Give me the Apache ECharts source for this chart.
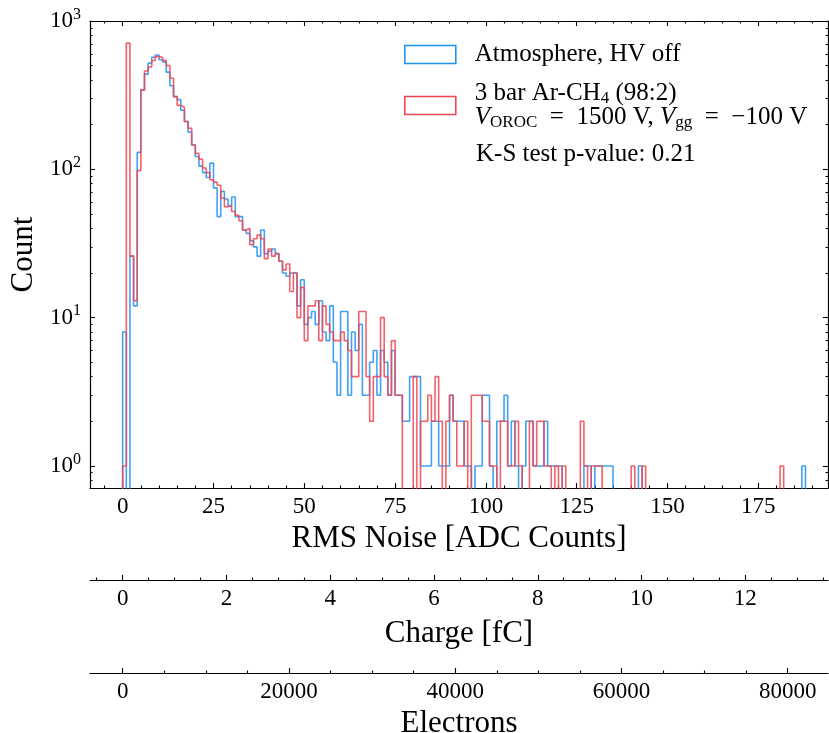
<!DOCTYPE html>
<html>
<head>
<meta charset="utf-8">
<script src="https://cdn.jsdelivr.net/npm/echarts@6/dist/echarts.min.js"></script>
<style>
  html, body { margin: 0; padding: 0; background: #fff; }
  #chart { width: 829px; height: 733px; }
</style>
</head>
<body>
<div id="chart"></div>
<script>
// histogram counts, one bin per ADC count starting at 0
const atmosphereCounts = [
  8, 0, 26, 12, 130, 343, 438, 520, 570, 590, 548, 530, 452, 366, 309, 295, 250, 210, 178, 146,
  122, 105, 95, 88, 110, 75, 48, 71, 63, 57, 65, 48, 48, 39, 37, 33, 30, 26, 39, 27,
  28, 29, 27, 24, 20, 19, 20, 20, 12, 18, 9, 10, 11, 9, 13, 8, 7, 12, 5, 3,
  11, 11, 3, 8, 6, 9, 3, 3, 5, 6, 3, 6, 5, 3, 6, 3, 3, 2, 2, 4,
  4, 4, 1, 1, 1, 2, 2, 1, 1, 1, 3, 2, 2, 2, 1, 1, 0, 1, 1, 3,
  3, 1, 0, 2, 2, 3, 1, 2, 1, 0, 1, 2, 2, 1, 1, 1, 2, 1, 1, 1,
  1, 0, 0, 0, 0, 0, 0, 1, 1, 0, 1, 1, 1, 1, 1, 0, 0, 0, 0, 0,
  0, 0, 1, 0, 0, 0, 0, 0, 0, 0, 0, 0, 0, 0, 0, 0, 0, 0, 0, 0,
  0, 0, 0, 0, 0, 0, 0, 0, 0, 0, 0, 0, 0, 0, 0, 0, 0, 0, 0, 0,
  0, 0, 0, 0, 0, 0, 0, 1
];
const arCh4Counts = [
  1, 709, 26, 13, 98, 343, 460, 490, 542, 575, 570, 542, 500, 411, 309, 270, 262, 210, 189, 146,
  128, 117, 102, 95, 85, 82, 78, 64, 56, 57, 52, 49, 45, 39, 40, 31, 34, 36, 34, 25,
  29, 26, 27, 24, 21, 23, 15, 20, 10, 16, 7, 12, 12, 13, 7, 12, 9, 8, 7, 7,
  8, 7, 6, 4, 4, 11, 11, 4, 2, 4, 4, 10, 4, 3, 7, 3, 3, 0, 0, 0,
  4, 0, 2, 2, 3, 2, 4, 2, 0, 2, 3, 2, 1, 1, 2, 0, 3, 3, 3, 2,
  2, 1, 1, 0, 2, 2, 1, 1, 2, 1, 0, 0, 2, 1, 2, 2, 1, 1, 0, 1,
  0, 1, 0, 0, 0, 0, 2, 1, 0, 1, 1, 1, 0, 0, 0, 0, 0, 0, 0, 0,
  1, 0, 0, 1, 0, 0, 0, 0, 0, 0, 0, 0, 0, 0, 0, 0, 0, 0, 0, 0,
  0, 0, 0, 0, 0, 0, 0, 0, 0, 0, 0, 0, 0, 0, 0, 0, 0, 0, 0, 0,
  0, 1
];

const rmsTicks = [0, 25, 50, 75, 100, 125, 150, 175];
const rmsMinorTicks = [-5, 5, 10, 15, 20, 30, 35, 40, 45, 55, 60, 65, 70, 80, 85, 90, 95,
  105, 110, 115, 120, 130, 135, 140, 145, 155, 160, 165, 170, 180, 185, 190];
const chargeTicks = [0, 2, 4, 6, 8, 10, 12];
const chargeMinorTicks = [-0.5, 0.5, 1, 1.5, 2.5, 3, 3.5, 4.5, 5, 5.5, 6.5, 7, 7.5, 8.5, 9, 9.5,
  10.5, 11, 11.5, 12.5, 13, 13.5];
const electronTicks = [0, 20000, 40000, 60000, 80000];
const electronMinorTicks = [5000, 10000, 15000, 25000, 30000, 35000, 45000, 50000, 55000,
  65000, 70000, 75000];
const countTicks = [1, 10, 100, 1000];
const countMinorTicks = [0.8, 0.9, 2, 3, 4, 5, 6, 7, 8, 9, 20, 30, 40, 50, 60, 70, 80, 90,
  200, 300, 400, 500, 600, 700, 800, 900];

const ADC_TO_FC = 0.07;
const FC_TO_E = 6241.5;
const X_MIN = -9.0, X_MAX = 194.2;
const Y_MIN = 0.71, Y_MAX = 1000;
const FLOOR = 0.3; // empty bins drop below the axis

const FONT = '"Liberation Serif", "DejaVu Serif", serif';
const BLUE = '#2191f2';
const RED = '#f04651';
const ATM = 'Atmosphere, HV off';
const GAS = 'Ar-CH4';

function histSteps(counts) {
  const pts = [[0, FLOOR]];
  counts.forEach((c, i) => pts.push([i, c > 0 ? c : FLOOR]));
  const last = counts[counts.length - 1];
  pts.push([counts.length, last > 0 ? last : FLOOR]);
  pts.push([counts.length, FLOOR]);
  return pts;
}

function tickAxis(position, offset, min, max, ticks, len, showLine) {
  return {
    type: 'value', position: position, offset: offset, min: min, max: max,
    axisLine: { show: showLine, onZero: false, lineStyle: { color: '#000', width: 1.2 } },
    axisTick: { show: true, inside: true, length: len, customValues: ticks, lineStyle: { color: '#000', width: 1.1 } },
    axisLabel: { show: false },
    splitLine: { show: false }
  };
}

function labelAxis(position, offset, min, max, ticks, name, nameGap) {
  const ax = tickAxis(position, offset, min, max, ticks, 5, true);
  ax.axisLabel = {
    show: true, customValues: ticks, margin: 7,
    fontFamily: FONT, fontSize: 23, color: '#000',
    formatter: v => String(v)
  };
  ax.name = name;
  ax.nameLocation = 'middle';
  ax.nameGap = nameGap;
  ax.nameTextStyle = { fontFamily: FONT, fontSize: 31, color: '#000' };
  return ax;
}

const chart = echarts.init(document.getElementById('chart'), null, { renderer: 'canvas' });

const yMain = tickAxis('left', 0, Y_MIN, Y_MAX, countTicks, 5, true);
yMain.type = 'log';
yMain.logBase = 10;
yMain.axisLabel = {
  show: true, customValues: countTicks, margin: 9,
  formatter: v => '{b|10}{s|' + Math.round(Math.log10(v)) + '}',
  rich: {
    b: { fontFamily: FONT, fontSize: 23, color: '#000' },
    s: { fontFamily: FONT, fontSize: 16, color: '#000', padding: [0, 0, 13, 0] }
  }
};
yMain.name = 'Count';
yMain.nameLocation = 'middle';
yMain.nameGap = 45;
yMain.nameTextStyle = { fontFamily: FONT, fontSize: 31, color: '#000' };

const yAxes = [
  yMain,
  tickAxis('left', 0, Y_MIN, Y_MAX, countMinorTicks, 2.5, false),
  tickAxis('right', 0, Y_MIN, Y_MAX, countTicks, 5, true),
  tickAxis('right', 0, Y_MIN, Y_MAX, countMinorTicks, 2.5, false)
];
yAxes.slice(1).forEach(a => { a.type = 'log'; a.logBase = 10; });

const xAxes = [
  labelAxis('bottom', 0, X_MIN, X_MAX, rmsTicks, 'RMS Noise [ADC Counts]', 35),
  tickAxis('bottom', 0, X_MIN, X_MAX, rmsMinorTicks, 2.5, false),
  tickAxis('top', 0, X_MIN, X_MAX, rmsTicks, 5, true),
  tickAxis('top', 0, X_MIN, X_MAX, rmsMinorTicks, 2.5, false),
  labelAxis('bottom', 92, X_MIN * ADC_TO_FC, X_MAX * ADC_TO_FC, chargeTicks, 'Charge [fC]', 38),
  tickAxis('bottom', 92, X_MIN * ADC_TO_FC, X_MAX * ADC_TO_FC, chargeMinorTicks, 2.5, false),
  labelAxis('bottom', 185, X_MIN * ADC_TO_FC * FC_TO_E, X_MAX * ADC_TO_FC * FC_TO_E, electronTicks, 'Electrons', 34),
  tickAxis('bottom', 185, X_MIN * ADC_TO_FC * FC_TO_E, X_MAX * ADC_TO_FC * FC_TO_E, electronMinorTicks, 2.5, false)
];

const option = {
  animation: false,
  backgroundColor: '#fff',
  grid: { left: 90, right: 1, top: 21, bottom: 245, containLabel: false, outerBoundsMode: 'none' },
  xAxis: xAxes,
  yAxis: yAxes,
  legend: {
    orient: 'vertical',
    left: 404, top: 42,
    padding: 0,
    itemWidth: 51, itemHeight: 18, itemGap: 14,
    selectedMode: false,
    data: [
      { name: ATM, icon: 'rect', itemStyle: { color: 'rgba(0,0,0,0)', borderColor: BLUE, borderWidth: 1.6 } },
      { name: GAS, icon: 'rect', itemStyle: { color: 'rgba(0,0,0,0)', borderColor: RED, borderWidth: 1.6 } }
    ],
    formatter: function (name) {
      if (name === ATM) return ATM;
      return '3 bar Ar-CH{sub|4} (98:2)\n{it|V}{sub|OROC}\u2002=\u20021500 V, {it|V}{sub|gg}\u2002=\u2002\u2212100 V';
    },
    textStyle: {
      fontFamily: FONT, fontSize: 25, color: '#000', lineHeight: 24, padding: [0, 0, 0, 14],
      rich: {
        sub: { fontFamily: FONT, fontSize: 17, color: '#000', padding: [11, 0, 0, 0] },
        it: { fontFamily: FONT, fontSize: 25, color: '#000', fontStyle: 'italic' }
      }
    }
  },
  graphic: [{
    type: 'text', left: 476, top: 142,
    style: { text: 'K-S test p-value: 0.21', fontFamily: FONT, fontSize: 25, fill: '#000' }
  }],
  series: [
    {
      name: ATM, type: 'line', step: 'end', xAxisIndex: 0, yAxisIndex: 0,
      data: histSteps(atmosphereCounts),
      showSymbol: false, symbol: 'none', clip: true,
      lineStyle: { color: BLUE, width: 1.6, opacity: 0.85 },
      itemStyle: { color: BLUE }
    },
    {
      name: GAS, type: 'line', step: 'end', xAxisIndex: 0, yAxisIndex: 0,
      data: histSteps(arCh4Counts),
      showSymbol: false, symbol: 'none', clip: true,
      lineStyle: { color: RED, width: 1.6, opacity: 0.85 },
      itemStyle: { color: RED }
    }
  ]
};

chart.setOption(option);
</script>
</body>
</html>
